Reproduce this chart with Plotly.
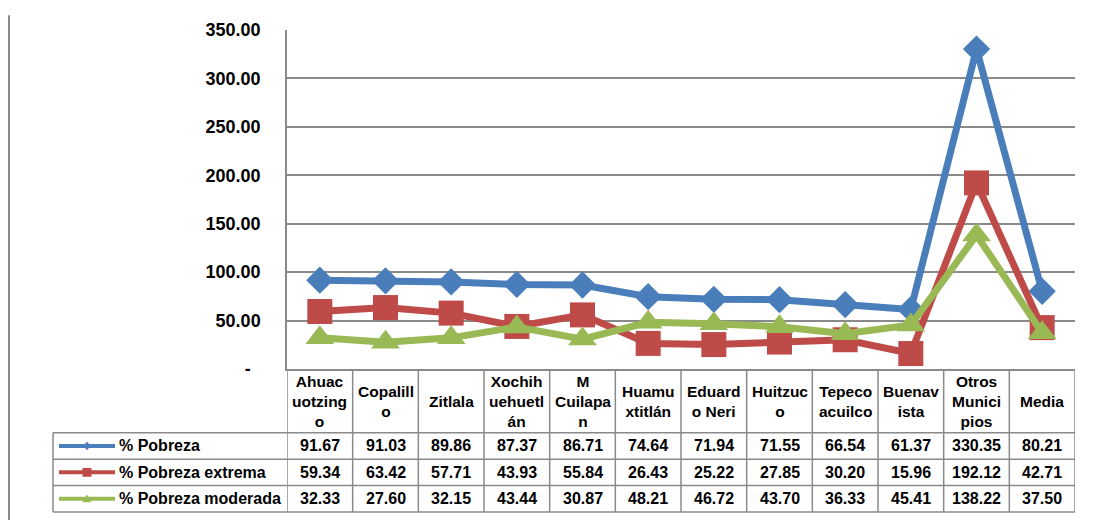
import plotly.graph_objects as go

# categories (x axis) and the wrapped text shown in the table header
municipios = ["Ahuacuotzingo", "Copalillo", "Zitlala", "Xochihuehuetlán", "M Cuilapan",
              "Huamuxtitlán", "Eduardo Neri", "Huitzuco", "Tepecoacuilco", "Buenavista",
              "Otros Municipios", "Media"]
header_labels = ["Ahuac<br>uotzing<br>o", "Copalill<br>o", "Zitlala", "Xochih<br>uehuetl<br>án",
                 "M<br>Cuilapa<br>n", "Huamu<br>xtitlán", "Eduard<br>o Neri", "Huitzuc<br>o",
                 "Tepeco<br>acuilco", "Buenav<br>ista", "Otros<br>Munici<br>pios", "Media"]

pobreza = [91.67, 91.03, 89.86, 87.37, 86.71, 74.64, 71.94, 71.55, 66.54, 61.37, 330.35, 80.21]
pobreza_extrema = [59.34, 63.42, 57.71, 43.93, 55.84, 26.43, 25.22, 27.85, 30.20, 15.96, 192.12, 42.71]
pobreza_moderada = [32.33, 27.60, 32.15, 43.44, 30.87, 48.21, 46.72, 43.70, 36.33, 45.41, 138.22, 37.50]

y_ticks = [0, 50, 100, 150, 200, 250, 300, 350]
y_ticktext = ["<b>-</b>\u00a0\u00a0"] + [f"<b>{v:.2f}</b>" for v in y_ticks[1:]]

series = [
    ("% Pobreza", pobreza, "#4A7EBB", "diamond", 21),
    ("% Pobreza extrema", pobreza_extrema, "#BE4B48", "square", 25),
    ("% Pobreza moderada", pobreza_moderada, "#98B954", "triangle-up", 25),
]

# the page puts the figure 8px in from the top-left corner, so work in screen pixels
OFF = 8
W, H = 1093 - OFF, 523 - OFF
L, R, T, B = 287, 1075, 23, 369   # plot area in screen pixels
FONT = "Liberation Sans, Arial, sans-serif"
GRID = "#8A8A8A"


def xp(p):
    return (p - L) / (R - L)


def yp(p):
    return (B - p) / (B - T)


fig = go.Figure()
for name, vals, color, sym, size in series:
    fig.add_trace(go.Scatter(
        x=list(range(len(municipios))), y=vals, name=name, mode="lines+markers",
        line=dict(color=color, width=7),
        marker=dict(symbol=sym, size=size, color=color),
        hoverinfo="skip",
    ))

shapes = []
annotations = []

# table geometry
row_lines = [434, 461, 488, 515]
legend_left = 53

# vertical column boundaries
for i in range(len(municipios) + 1):
    shapes.append(dict(type="line", xref="x", yref="paper", x0=i - 0.5, x1=i - 0.5,
                       y0=yp(B), y1=yp(515), line=dict(color=GRID, width=1.5)))
shapes.append(dict(type="line", xref="paper", yref="paper", x0=xp(legend_left), x1=xp(legend_left),
                   y0=yp(434), y1=yp(515), line=dict(color=GRID, width=1.5)))
# horizontal row lines
for r in row_lines:
    shapes.append(dict(type="line", xref="paper", yref="paper", x0=xp(legend_left), x1=1,
                       y0=yp(r), y1=yp(r), line=dict(color=GRID, width=1.5)))
# outer left border of the chart area
shapes.append(dict(type="line", xref="paper", yref="paper", x0=xp(9), x1=xp(9),
                   y0=yp(OFF), y1=yp(523), line=dict(color=GRID, width=2)))

# header labels
for i, lab in enumerate(header_labels):
    annotations.append(dict(x=i, y=yp(402), xref="x", yref="paper", text=f"<b>{lab}</b>",
                            showarrow=False, font=dict(family=FONT, size=15.5, color="black"),
                            align="center", yanchor="middle"))

# data rows with legend keys
for k, (name, vals, color, sym, size) in enumerate(series):
    top, bot = row_lines[k], row_lines[k + 1]
    cy = (top + bot) / 2
    for i, v in enumerate(vals):
        annotations.append(dict(x=i, y=yp(cy), xref="x", yref="paper", text=f"<b>{v:.2f}</b>",
                                showarrow=False, font=dict(family=FONT, size=16, color="black"),
                                yanchor="middle"))
    annotations.append(dict(x=xp(117), y=yp(cy), xref="paper", yref="paper", text=f"<b>{name}</b>",
                            showarrow=False, xanchor="left", yanchor="middle",
                            font=dict(family=FONT, size=16, color="black")))
    shapes.append(dict(type="line", xref="paper", yref="paper", x0=xp(59), x1=xp(115),
                       y0=yp(cy), y1=yp(cy), line=dict(color=color, width=4)))
    mx, ms = 87, 4.5
    if sym == "diamond":
        pts = [(mx, cy - ms), (mx + ms * 0.8, cy), (mx, cy + ms), (mx - ms * 0.8, cy)]
    elif sym == "square":
        pts = [(mx - ms, cy - ms), (mx + ms, cy - ms), (mx + ms, cy + ms), (mx - ms, cy + ms)]
    else:
        pts = [(mx, cy - ms), (mx + ms, cy + ms * 0.8), (mx - ms, cy + ms * 0.8)]
    path = "M " + " L ".join(f"{xp(a)},{yp(b)}" for a, b in pts) + " Z"
    shapes.append(dict(type="path", xref="paper", yref="paper", path=path,
                       fillcolor=color, line=dict(color=color, width=0)))

fig.update_layout(
    width=W, height=H,
    margin=dict(l=L - OFF, r=W + OFF - R, t=T - OFF, b=H + OFF - B, pad=0),
    paper_bgcolor="white", plot_bgcolor="white",
    showlegend=False,
    font=dict(family=FONT, color="black"),
    xaxis=dict(range=[-0.5, len(municipios) - 0.5], showticklabels=False, showgrid=False,
               zeroline=False, showline=True, linecolor=GRID, linewidth=1.5, fixedrange=True),
    yaxis=dict(range=[0, 350], tickvals=y_ticks, ticktext=y_ticktext,
               tickfont=dict(family=FONT, size=18, color="black"),
               showgrid=True, gridcolor=GRID, gridwidth=1.5, zeroline=False,
               showline=True, linecolor=GRID, linewidth=1.5, ticks="",
               ticklabelstandoff=21, fixedrange=True),
    shapes=shapes,
    annotations=annotations,
    hovermode=False,
)

fig.write_html("out.html")
